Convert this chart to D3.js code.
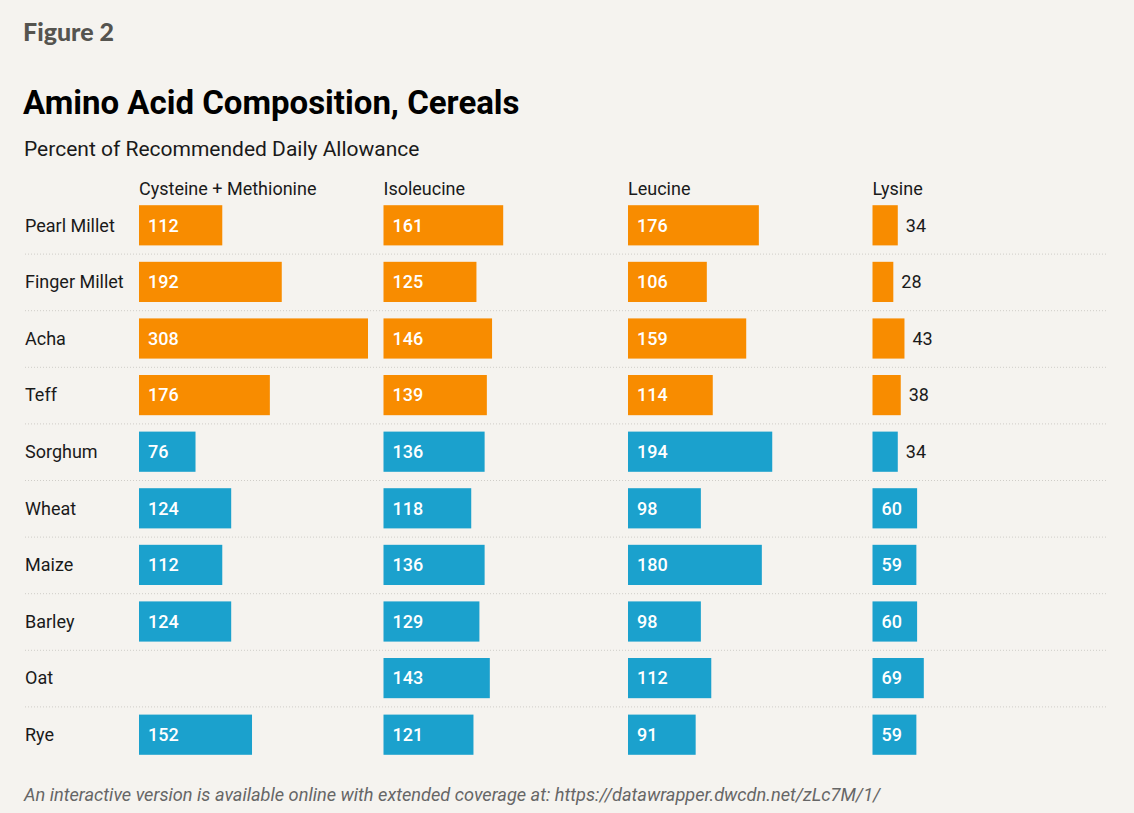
<!DOCTYPE html>
<html><head><meta charset="utf-8">
<script src="https://cdn.jsdelivr.net/npm/d3@7"></script>
<style>
html,body{margin:0;padding:0;background:#f5f3ef;}
svg{display:block;}
</style></head>
<body>
<svg id="chart" width="1134" height="813"></svg>
<script>
const grains = ["Pearl Millet","Finger Millet","Acha","Teff","Sorghum","Wheat","Maize","Barley","Oat","Rye"];
const aminoAcids = ["Cysteine + Methionine","Isoleucine","Leucine","Lysine"];
const cysMet   = [112,192,308,176,76,124,112,124,null,152];
const isoleucine = [161,125,146,139,136,118,136,129,143,121];
const leucine  = [176,106,159,114,194,98,180,98,112,91];
const lysine   = [34,28,43,38,34,60,59,60,69,59];
const highlighted = ["Pearl Millet","Finger Millet","Acha","Teff"];
const seriesValues = [cysMet, isoleucine, leucine, lysine];

const svg = d3.select("#chart");
const W = 1134, H = 813;
svg.append("rect").attr("width",W).attr("height",H).attr("fill","#f5f3ef");

svg.append("text").attr("x",23).attr("y",41).text("Figure 2")
  .attr("font-family","Lato, 'Open Sans', sans-serif").attr("font-weight",900)
  .attr("font-size",25).attr("fill","#55544f");
svg.append("text").attr("x",23).attr("y",114).text("Amino Acid Composition, Cereals")
  .attr("font-family","Roboto, sans-serif").attr("font-weight",700)
  .attr("font-size",33).attr("fill","#000");
svg.append("text").attr("x",24).attr("y",156).text("Percent of Recommended Daily Allowance")
  .attr("font-family","Roboto, sans-serif").attr("font-weight",400)
  .attr("font-size",21).attr("fill","#1a1a1a");
svg.append("text").attr("x",24).attr("y",801).text("An interactive version is available online with extended coverage at: https://datawrapper.dwcdn.net/zLc7M/1/")
  .attr("font-family","Roboto, sans-serif").attr("font-style","italic")
  .attr("font-size",18.2).attr("fill","#666");

const y = d3.scaleBand().domain(grains).range([197, 763]).paddingInner(0.29).paddingOuter(0.145);
const colX = d3.scaleBand().domain(aminoAcids).range([139, 1117]).paddingInner(0).paddingOuter(0);
const maxV = d3.max(seriesValues.flat());
const x = d3.scaleLinear().domain([0, maxV]).range([0, 229]);

// separators
const step = y.step();
svg.append("g").selectAll("line").data(grains.slice(1)).join("line")
  .attr("x1",25).attr("x2",1108)
  .attr("y1",d=>y(d) - (step - y.bandwidth())/2 + 0.5)
  .attr("y2",d=>y(d) - (step - y.bandwidth())/2 + 0.5)
  .attr("stroke","#cfcdc8").attr("stroke-width",1).attr("stroke-dasharray","1,2");

// row labels
svg.append("g").selectAll("text").data(grains).join("text")
  .attr("x",25).attr("y",d=>y(d)+y.bandwidth()/2).attr("dy","0.35em")
  .text(d=>d).attr("font-family","Roboto, sans-serif").attr("font-size",18).attr("fill","#1a1a1a");

// column headers
svg.append("g").selectAll("text").data(aminoAcids).join("text")
  .attr("x",d=>colX(d)).attr("y",195).text(d=>d)
  .attr("font-family","Roboto, sans-serif").attr("font-size",18).attr("fill","#1a1a1a");

const orange = "#f88c00", blue = "#1ba1cd";
aminoAcids.forEach((aa, ci) => {
  const vals = seriesValues[ci];
  const data = grains.map((g,i)=>({g, v: vals[i]})).filter(d=>d.v!=null);
  const g = svg.append("g").attr("transform",`translate(${colX(aa)},0)`);
  g.selectAll("rect").data(data).join("rect")
    .attr("x",0).attr("y",d=>y(d.g)).attr("height",y.bandwidth())
    .attr("width",d=>x(d.v))
    .attr("fill",d=>highlighted.includes(d.g)?orange:blue);
  g.selectAll("text").data(data).join("text")
    .attr("y",d=>y(d.g)+y.bandwidth()/2).attr("dy","0.35em")
    .attr("font-family","Roboto, sans-serif").attr("font-size",18)
    .each(function(d){
      const inside = x(d.v) > 40;
      d3.select(this).attr("x", inside ? 9 : x(d.v)+8)
        .attr("fill", inside ? "#fff" : "#1a1a1a")
        .attr("font-weight", inside ? 500 : 400)
        .text(d.v);
    });
});
</script>
</body></html>
